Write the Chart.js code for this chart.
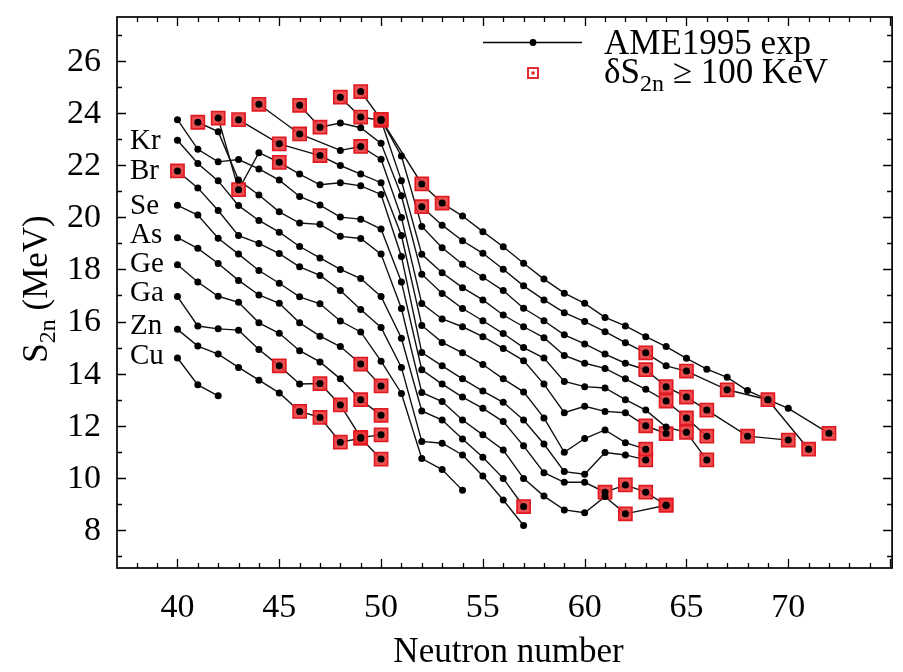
<!DOCTYPE html>
<html><head><meta charset="utf-8">
<script src="https://cdn.jsdelivr.net/npm/chart.js@4.4.1/dist/chart.umd.min.js"></script>
<style>html,body{margin:0;padding:0;background:#fff}#wrap{width:903px;height:672px}</style>
</head><body><div id="wrap"><canvas id="c" width="903" height="672"></canvas></div>
<script>
// Each point: [neutron number N, S2n in MeV, flag (1 = dS2n >= 100 keV)]
const Cu = [[40,14.60],[41,13.57],[42,13.15]];
const Zn = [[40,15.70],[41,15.06],[42,14.75],[43,14.24],[44,13.75],[45,13.26],[46,12.55,1],[47,12.32,1],[48,11.37,1],[49,11.52,1],[50,10.72,1]];
const Ga = [[40,16.96],[41,15.83],[42,15.72],[43,15.67],[44,14.93],[45,14.30,1],[46,13.60],[47,13.62,1],[48,12.80,1],[49,11.55,1],[50,11.65,1]];
const Ge = [[40,18.18],[41,17.52],[42,16.97],[43,16.74],[44,15.95],[45,15.55],[46,14.88],[47,14.45],[48,13.80],[49,13.00,1],[50,12.40,1]];
const As = [[40,19.22],[41,18.81],[42,18.23],[43,17.58],[44,17.02],[45,16.70],[46,15.95],[47,15.44],[48,15.04],[49,14.37,1],[50,13.53,1]];
const Se = [[40,20.46],[41,20.09],[42,19.20],[43,18.59],[44,17.96],[45,17.47],[46,16.95],[47,16.68],[48,16.02],[49,15.60],[50,14.48],[51,13.24],[52,10.74],[53,10.32],[54,9.52]];
const Br = [[40,21.78,1],[41,21.13],[42,20.26],[43,19.30],[44,19.00],[45,18.61],[46,18.10],[47,17.77],[48,17.19],[49,16.46],[50,15.77],[51,14.24],[52,11.40],[53,11.33],[54,10.88],[55,10.07],[56,9.15],[57,8.17]];
const Kr = [[40,22.96],[41,22.07],[42,21.40],[43,20.45],[44,19.88],[45,19.43],[46,18.88],[47,18.44],[48,18.00],[49,17.65],[50,16.96],[51,15.36],[52,12.57],[53,12.22],[54,11.49],[55,10.79],[56,9.98],[57,8.90,1]];
const Sr = [[41,23.65,1],[42,23.29],[43,21.43],[44,20.86],[45,20.21],[46,19.78],[47,19.73],[48,19.27],[49,19.19],[50,18.59],[51,16.50],[52,13.28],[53,12.93],[54,12.22],[55,11.65],[56,11.07],[57,9.98],[58,9.30],[59,8.77],[60,8.66],[61,9.28],[62,8.62,1],[64,8.95,1]];
const Rb = [[40,23.75],[41,22.61],[42,22.13],[43,22.22],[44,21.86],[45,21.43],[46,20.80],[47,20.47],[48,20.01],[49,19.93],[50,19.55],[51,17.52],[52,14.15],[53,13.60],[54,13.10],[55,12.67],[56,12.16],[57,11.23],[58,10.20],[59,9.83],[60,9.83],[61,9.45,1],[62,9.73,1],[63,9.45,1],[64,8.95,1]];
const Y  = [[42,23.81,1],[43,21.06,1],[44,22.48],[45,22.11,1],[46,21.66],[47,21.25],[48,21.33],[49,21.21],[50,20.88],[51,18.50],[52,14.81],[53,14.30],[54,13.80],[55,13.33],[56,12.90],[57,12.22],[58,11.30],[59,10.24],[60,10.14],[61,10.97],[62,10.88],[63,10.69,1]];
const Zr = [[43,23.75,1],[45,22.82,1],[47,22.37,1],[48,21.99],[49,21.66],[50,21.33],[51,19.30],[52,15.85],[53,15.20],[54,14.80],[55,14.35],[56,13.80],[57,13.30],[58,12.30],[59,10.98],[60,11.51],[61,11.84],[62,11.35],[63,11.10,1]];
const Nb = [[44,24.34,1],[46,23.20,1],[48,22.57],[49,22.72,1],[50,22.23],[51,19.99],[52,16.69],[53,16.10],[54,15.80],[55,15.42],[56,14.97],[57,14.50],[58,13.60],[59,12.50],[60,12.75],[61,12.55],[62,12.50],[63,12.00,1],[64,11.70,1]];
const Mo = [[46,24.30,1],[47,23.46,1],[48,23.62],[49,23.44],[50,22.84],[51,20.83],[52,17.82],[53,17.08],[54,16.50],[55,16.03],[56,15.54],[57,15.00],[58,14.60],[59,13.70],[60,13.50],[61,13.45],[62,13.00],[63,12.60],[64,11.95],[65,11.75,1],[66,10.69,1]];
const Tc = [[48,24.61,1],[49,23.85,1],[50,23.72,1],[51,21.40],[52,18.58],[53,17.87],[54,17.30],[55,16.83],[56,16.25],[57,15.80],[58,15.38],[59,14.70],[60,14.40],[61,14.20],[62,13.80],[63,13.40],[64,12.95,1],[65,12.30,1],[66,11.60,1]];
const Ru = [[50,23.76,1],[51,22.35],[52,19.65],[53,18.83],[54,18.20],[55,17.70],[56,17.19],[57,16.51],[58,16.03],[59,15.49],[60,15.14],[61,14.75],[62,14.40],[63,14.15,1],[64,13.50,1],[65,13.10,1],[66,12.60,1],[68,11.60,1],[70,11.45,1]];
const Rh = [[52,20.41,1],[53,19.70],[54,19.10],[55,18.62],[56,18.01],[57,17.37],[58,16.83],[59,16.34],[60,16.00],[61,15.61],[62,15.19],[63,14.80,1],[64,14.30],[65,14.10,1],[67,13.38,1],[69,13.00,1],[71,11.10,1]];
const Pd = [[49,24.83,1],[50,23.76,1],[52,21.28,1],[53,20.55,1],[54,20.05],[55,19.45],[56,18.87],[57,18.24],[58,17.63],[59,17.09],[60,16.70],[61,16.16],[62,15.83],[63,15.42],[64,15.04],[65,14.59],[66,14.17],[67,13.86],[68,13.35],[69,13.00],[70,12.67],[72,11.71,1]];

const allSeries = [Cu, Zn, Ga, Ge, As, Se, Br, Kr, Sr, Rb, Y, Zr, Nb, Mo, Tc, Ru, Rh, Pd];

const elementNames = ['Kr','Br','Se','As','Ge','Ga','Zn','Cu'];
const elementLabelS = [22.95, 21.80, 20.45, 19.35, 18.22, 17.12, 15.85, 14.72];

const xTickLabels = [40, 45, 50, 55, 60, 65, 70];
const yTickLabels = [8, 10, 12, 14, 16, 18, 20, 22, 24, 26];
const xTitle = 'Neutron number';
const legendText1 = 'AME1995 exp';

const SERIF = '"Liberation Serif", "Times New Roman", serif';

const lineSets = allSeries.map(s => ({
  data: s.map(p => ({x: p[0], y: p[1]})),
  showLine: true, borderColor: '#111', borderWidth: 1.4,
  pointRadius: 0, order: 3
}));
const redSet = {
  data: allSeries.flatMap(s => s.filter(p => p[2]).map(p => ({x: p[0], y: p[1]}))),
  showLine: false, pointStyle: 'rect', pointRadius: 9.3,
  backgroundColor: 'rgba(232,52,56,0.88)', borderColor: '#e01820', borderWidth: 1.6, order: 2
};
const dotSet = {
  data: allSeries.flatMap(s => s.map(p => ({x: p[0], y: p[1]}))),
  showLine: false, pointRadius: 3.5, backgroundColor: '#000', borderWidth: 0, order: 1
};

const deco = {
  id: 'deco',
  afterDraw(chart) {
    const ctx = chart.ctx, a = chart.chartArea;
    const xs = chart.scales.x, ys = chart.scales.y;
    ctx.save();
    ctx.strokeStyle = '#000'; ctx.lineWidth = 1.7;
    ctx.strokeRect(a.left, a.top, a.right - a.left, a.bottom - a.top);
    ctx.lineWidth = 1.3;
    for (let n = Math.ceil(xs.min); n <= Math.floor(xs.max); n++) {
      const px = Math.round(xs.getPixelForValue(n)) + 0.5;
      const len = (n % 5 === 0) ? 9 : 5;
      ctx.beginPath();
      ctx.moveTo(px, a.bottom); ctx.lineTo(px, a.bottom - len);
      ctx.moveTo(px, a.top); ctx.lineTo(px, a.top + len);
      ctx.stroke();
    }
    for (let v = Math.ceil(ys.min); v <= Math.floor(ys.max); v++) {
      const py = Math.round(ys.getPixelForValue(v)) + 0.5;
      const len = (v % 2 === 0) ? 9 : 5;
      ctx.beginPath();
      ctx.moveTo(a.left, py); ctx.lineTo(a.left + len, py);
      ctx.moveTo(a.right, py); ctx.lineTo(a.right - len, py);
      ctx.stroke();
    }
    ctx.fillStyle = '#000';
    ctx.font = '34px ' + SERIF;
    ctx.textAlign = 'center'; ctx.textBaseline = 'alphabetic';
    xTickLabels.forEach(v => ctx.fillText(String(v), xs.getPixelForValue(v), 617));
    ctx.textAlign = 'right'; ctx.textBaseline = 'middle';
    yTickLabels.forEach(v => ctx.fillText(String(v), 101, ys.getPixelForValue(v) + 1));
    ctx.textAlign = 'center'; ctx.textBaseline = 'alphabetic';
    ctx.font = '35px ' + SERIF;
    ctx.fillText(xTitle, (a.left + a.right) / 2 + 4, 662);
    ctx.save();
    ctx.translate(47, 289);
    ctx.rotate(-Math.PI / 2);
    const big = '35px ' + SERIF, small = '24px ' + SERIF;
    ctx.font = big; const wS = ctx.measureText('S').width;
    const wR = ctx.measureText(' (MeV)').width;
    ctx.font = small; const wSub = ctx.measureText('2n').width;
    let x0 = -(wS + wSub + wR) / 2;
    ctx.textAlign = 'left';
    ctx.font = big; ctx.fillText('S', x0, 0); x0 += wS;
    ctx.font = small; ctx.fillText('2n', x0, 8); x0 += wSub;
    ctx.font = big; ctx.fillText(' (MeV)', x0, 0);
    ctx.restore();
    ctx.font = '29px ' + SERIF; ctx.textAlign = 'left'; ctx.textBaseline = 'middle';
    elementNames.forEach((t, i) => ctx.fillText(t, 130, ys.getPixelForValue(elementLabelS[i]) + 1));
    ctx.lineWidth = 1.4;
    ctx.beginPath(); ctx.moveTo(483, 42.5); ctx.lineTo(582, 42.5); ctx.stroke();
    ctx.beginPath(); ctx.arc(533, 42.5, 3.4, 0, Math.PI * 2); ctx.fill();
    ctx.strokeStyle = '#e01820'; ctx.lineWidth = 1.8;
    ctx.strokeRect(528, 68, 10, 10);
    ctx.fillStyle = '#e01820'; ctx.fillRect(531.5, 71.5, 3, 3);
    ctx.fillStyle = '#000';
    ctx.textAlign = 'left'; ctx.textBaseline = 'alphabetic';
    ctx.font = big; ctx.fillText(legendText1, 604, 54);
    let lx = 604;
    ctx.fillText('\u03B4S', lx, 83); lx += ctx.measureText('\u03B4S').width;
    ctx.font = small; ctx.fillText('2n', lx, 91); lx += ctx.measureText('2n').width;
    ctx.font = big; ctx.fillText(' \u2265 100 KeV', lx, 83);
    ctx.restore();
  }
};

new Chart(document.getElementById('c'), {
  type: 'scatter',
  data: { datasets: [...lineSets, redSet, dotSet] },
  options: {
    responsive: false, animation: false,
    layout: { padding: { left: 0, right: 3, top: 17, bottom: 0 } },
    plugins: { legend: { display: false }, tooltip: { enabled: false } },
    scales: {
      x: { type: 'linear', min: 37.03, max: 75.1, grid: { display: false }, border: { display: false },
           ticks: { display: false }, afterFit: s => { s.height = 104; } },
      y: { type: 'linear', min: 6.54, max: 27.69, grid: { display: false }, border: { display: false },
           ticks: { display: false }, afterFit: s => { s.width = 117; } }
    }
  },
  plugins: [deco]
});
</script></body></html>
